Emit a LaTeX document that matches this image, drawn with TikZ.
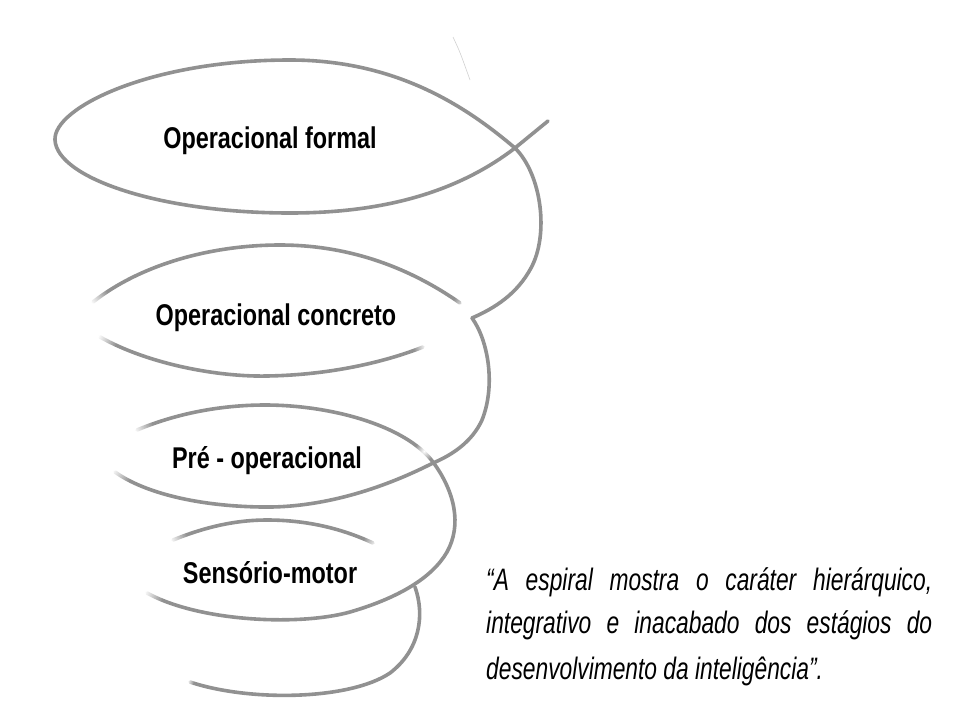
\documentclass[tikz,border=0pt]{standalone}
\usepackage{fontspec}
\setmainfont{Liberation Sans}[FakeStretch=0.78]
\newfontfamily\quotefont{Liberation Sans}[FakeStretch=0.735]
\usetikzlibrary{fadings}
\definecolor{spiral}{RGB}{145,145,145}
\tikzfading[name=softdot, inner color=transparent!0, outer color=transparent!100]
\begin{document}
\begin{tikzpicture}[x=1pt,y=-1pt,
  line/.style={draw=spiral, line width=3.6pt, line cap=round, line join=round},
  blob/.style={fill=white, path fading=softdot},
  lbl/.style={font=\bfseries\fontsize{30}{32}\selectfont, anchor=base, inner sep=0pt},
  quote/.style={font=\quotefont\itshape\fontsize{31}{33}\selectfont, anchor=base west, inner sep=0pt}]
\useasboundingbox[fill=white] (0,0) rectangle (960,720);

% faint stroke at the top
\draw[black!18, line width=0.6pt] (453,37) .. controls (460,52) .. (470,80);

% back arcs
\draw[line] (93,302) .. controls (140,265) and (210,245) .. (280,245) .. controls (360,245) and (420,275) .. (460,303);
\draw[line] (100,337) .. controls (150,365) and (220,377) .. (267,376) .. controls (330,375) and (385,362) .. (423,347);
\draw[line] (173,540) .. controls (210,525) and (240,520) .. (267,520) .. controls (310,520) and (345,530) .. (373,543);
\draw[line] (137,430) .. controls (180,412) and (225,405) .. (265,405) .. controls (330,405) and (405,425) .. (433,462)
  .. controls (455,492) and (462,525) .. (447,552) .. controls (432,578) and (398,598) .. (350,612)
  .. controls (300,626) and (200,622) .. (147,593);

% fading ends of back arcs
\fill[blob] (91,303) circle (20);
\fill[blob] (464,307) circle (13);
\fill[blob] (98,336) circle (20);
\fill[blob] (426,346) circle (13);
\fill[blob] (170,541) circle (18);
\fill[blob] (376,545) circle (14);
\fill[blob] (134,431) circle (20);
\fill[blob] (424,451) circle (10);
\fill[blob] (144,592) circle (20);

% front lines
\draw[line] (548,121) -- (515,148) .. controls (450,198) and (370,213) .. (290,213)
  .. controls (160,213) and (57,178) .. (55,140)
  .. controls (53,108) and (150,60) .. (290,60)
  .. controls (400,60) and (470,110) .. (515,148)
  .. controls (542,175) and (549,235) .. (531,268)
  .. controls (517,294) and (495,308) .. (472,318);
\draw[line] (472,318) .. controls (488,340) and (496,385) .. (482,420)
  .. controls (472,442) and (452,455) .. (433,463)
  .. controls (380,490) and (320,508) .. (262,507)
  .. controls (190,506) and (140,490) .. (115,472);
\draw[line] (415,587) .. controls (425,615) and (420,650) .. (390,673)
  .. controls (350,700) and (250,702) .. (190,682);

\fill[blob] (112,470) circle (20);
\fill[blob] (187,681) circle (7);

% labels
\node[lbl] (formal) at (270,148.5) {Operacional formal};
\node[lbl] (concreto) at (276,325) {Operacional concreto};
\node[lbl] (preop) at (267,468) {Pré - operacional};
\node[lbl] (sensorio) at (270,583) {Sensório-motor};

% quote
\node[quote] (q1) at (486,590) {\makebox[446pt][s]{“A espiral mostra o caráter hierárquico,}};
\node[quote] (q2) at (486,633) {\makebox[446pt][s]{integrativo e inacabado dos estágios do}};
\node[quote] (q3) at (486,679) {desenvolvimento da inteligência”.};
\end{tikzpicture}
\end{document}
